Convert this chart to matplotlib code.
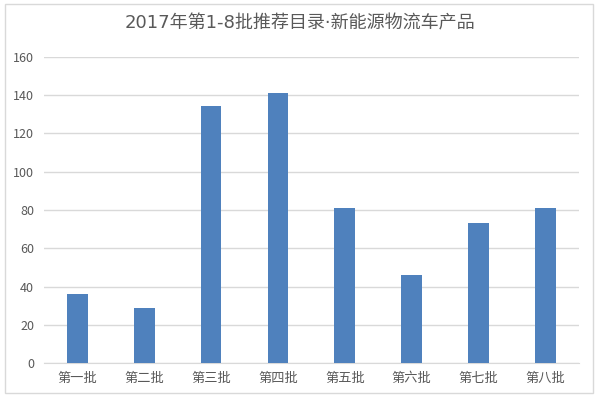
"""
2017 new-energy logistics vehicle recommended catalogue, batches 1-8
"""

import matplotlib
matplotlib.use('Agg')
import matplotlib.pyplot as plt
from matplotlib.patches import Rectangle

plt.rcParams['font.family'] = ['Noto Sans CJK SC', 'DejaVu Sans']

batches = ['第一批', '第二批', '第三批', '第四批', '第五批', '第六批', '第七批', '第八批']
counts = [36, 29, 134, 141, 81, 46, 73, 81]
title = '2017年第1-8批推荐目录·新能源物流车产品'

fig = plt.figure(figsize=(6, 3.98), dpi=100)
ax = fig.add_axes([0.073, 0.087, 0.892, 0.771])

x = range(len(batches))
ax.bar(x, counts, width=0.31, color='#4f81bd', zorder=3)

ax.set_xlim(-0.5, len(batches) - 0.5)
ax.set_ylim(0, 160)
ax.set_yticks(range(0, 161, 20))
ax.set_xticks(list(x))
ax.set_xticklabels(batches, fontsize=9.5, color='#595959')
ax.tick_params(axis='y', labelsize=9, colors='#595959', length=0, pad=7)
ax.tick_params(axis='x', length=0, pad=6)
ax.grid(axis='y', color='#d9d9d9', linewidth=1, zorder=0)
for s in ['top', 'right', 'left']:
    ax.spines[s].set_visible(False)
ax.spines['bottom'].set_color('#d9d9d9')

# narrow middle dot and digits from DejaVu, CJK from Noto
fig.text(0.5, 0.942, title, ha='center', va='center', fontsize=13, color='#595959',
         family=['DejaVu Sans', 'Noto Sans CJK SC'])

# chart border
fig.patches.append(Rectangle((0.008, 0.012), 0.98, 0.978, transform=fig.transFigure,
                             fill=False, edgecolor='#d9d9d9', linewidth=1))

fig.savefig('out.png', dpi=100)
